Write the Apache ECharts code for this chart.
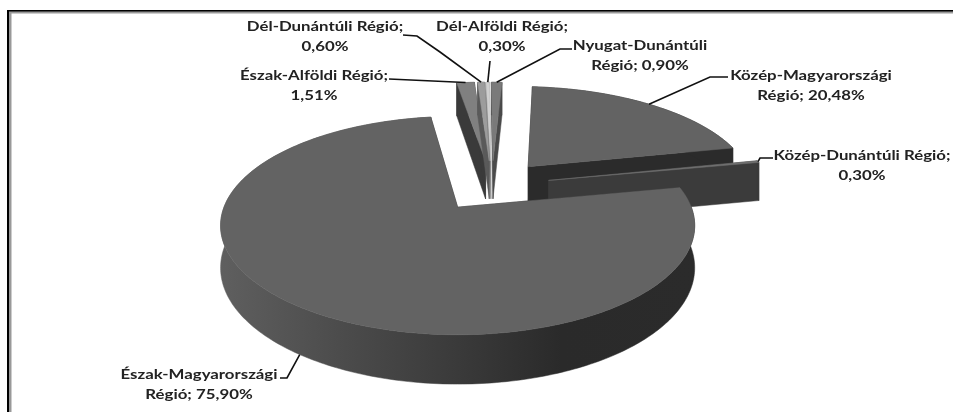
<!DOCTYPE html>
<html>
<head>
<meta charset="utf-8">
<style>
  * { margin: 0; padding: 0; }
  html, body { background: #fff; overflow: hidden; }
  #main { width: 953px; height: 412px; }
</style>
<script src="https://cdn.jsdelivr.net/npm/echarts@6/dist/echarts.min.js"></script>
</head>
<body>
<div id="main"></div>
<script>
  // adatok
  var regions = ['Közép-Magyarországi Régió', 'Közép-Dunántúli Régió', 'Észak-Magyarországi Régió',
    'Észak-Alföldi Régió', 'Dél-Dunántúli Régió', 'Dél-Alföldi Régió', 'Nyugat-Dunántúli Régió'];
  var shares = [20.48, 0.30, 75.90, 1.51, 0.60, 0.30, 0.90];

  // megjelenes
  var topColors = ['#636363', '#6e6e6e', '#636363', '#808080', '#9c9c9c', '#cfcfcf', '#7a7a7a'];
  var wallColors = ['#2b2b2b', '#3b3b3b', '#2b2b2b', '#3a3a3a', '#5a5a5a', '#8e8e8e', '#4a4a4a'];
  var paintOrder = [4, 5, 6, 0, 3, 2, 1]; // hatulrol elore, regions szerinti sorrendben ertve z2-nek
  var breakBeforeRegio = [true, false, true, false, false, false, true];
  var labelCenters = [[811, 85], [862, 165], [199, 384], [314, 85], [325, 36], [502, 36], [640, 55]];
  var leaderPoints = [
    [[728, 77], [710, 77]],
    [[773, 158], [760, 158]],
    [[280, 378], [287, 378]],
    [[389, 79]],
    [[403, 35], [417, 36], [440, 52]],
    [[490, 61]],
    [[572, 49], [560, 49]]
  ];
  var leaderOnBase = [0, 0, 1, 0, 0, 0, 0]; // a vonal a fal aljara fut

  // perspektiva: egysegsugaru korlap a kepernyon
  var originX = 458, originY = 207;
  var radiusX = 233.6, radiusY = 106, depth = 41, persp = 0.169;
  var centerOffset = [0.15, -0.21], explode = 0.26;
  var startAngle = 4.2;

  var total = shares.reduce(function (a, b) { return a + b; }, 0);
  var rad = Math.PI / 180;

  function project(x, y, z) {
    var s = 1 / (1 - persp * y);
    return [originX + radiusX * x * s, originY + (radiusY * y + depth * z) * s];
  }

  function sliceAngles(index) {
    var before = 0;
    for (var i = 0; i < index; i++) before += shares[i];
    var from = startAngle + before / total * 360;
    return [from, from + shares[index] / total * 360];
  }

  function sliceTip(from, to) {
    var mid = (from + to) / 2 * rad;
    return [centerOffset[0] + explode * Math.sin(mid), centerOffset[1] - explode * Math.cos(mid)];
  }

  function rim(tip, angle, z) {
    return project(tip[0] + Math.sin(angle * rad), tip[1] - Math.cos(angle * rad), z);
  }

  function labelText(i) {
    var pct = shares[i].toFixed(2).replace('.', ',') + '%';
    if (breakBeforeRegio[i]) {
      return regions[i].replace(' Régió', '\nRégió; ') + pct;
    }
    return regions[i] + ';\n' + pct;
  }

  function polygon(points, fill, z2) {
    return { type: 'polygon', z2: z2, shape: { points: points }, style: { fill: fill, stroke: fill, lineWidth: 0.5 } };
  }

  function baseGradient() {
    return new echarts.graphic.LinearGradient(0, 0, 1, 0, [
      { offset: 0, color: '#5f5f5f' },
      { offset: 0.25, color: '#4c4c4c' },
      { offset: 0.5, color: '#3a3a3a' },
      { offset: 0.72, color: '#2a2a2a' },
      { offset: 1, color: '#2b2b2b' }
    ]);
  }

  function renderSlice(params, api) {
    var i = params.dataIndex;
    var range = sliceAngles(i), from = range[0], to = range[1];
    var tip = sliceTip(from, to);
    var layer = paintOrder[i] * 10;
    var children = [];

    var topArc = [], baseArc = [];
    for (var a = from; a < to; a += 1) {
      topArc.push(rim(tip, a, 0));
      baseArc.push(rim(tip, a, 1));
    }
    topArc.push(rim(tip, to, 0));
    baseArc.push(rim(tip, to, 1));

    // oldalfalak, kulso fal, teteje
    [from, to].forEach(function (edge) {
      children.push(polygon([project(tip[0], tip[1], 0), rim(tip, edge, 0), rim(tip, edge, 1), project(tip[0], tip[1], 1)],
        wallColors[i], layer));
    });
    var outer = topArc.concat(baseArc.slice().reverse());
    children.push(polygon(outer, shares[i] > 50 ? baseGradient() : wallColors[i], layer + 1));
    children.push(polygon([project(tip[0], tip[1], 0)].concat(topArc), topColors[i], layer + 2));

    // vezeto vonal es felirat
    var mid = (from + to) / 2;
    var leader = leaderPoints[i].concat([rim(tip, mid, leaderOnBase[i])]);
    children.push({
      type: 'polyline', z2: 200, shape: { points: leader },
      style: { fill: null, stroke: '#111', lineWidth: 1.6 }
    });
    children.push({
      type: 'text', z2: 201,
      x: labelCenters[i][0], y: labelCenters[i][1],
      scaleX: 1.2, // az eredeti kep vizszintesen nyujtott
      style: {
        text: labelText(i), fill: '#222', align: 'center', verticalAlign: 'middle',
        font: 'bold 14px Lato', lineHeight: 20
      }
    });
    return { type: 'group', children: children };
  }

  var chart = echarts.init(document.getElementById('main'), null, { renderer: 'canvas' });
  chart.setOption({
    animation: false,
    backgroundColor: '#fff',
    graphic: [
      { type: 'rect', z: -1, shape: { x: 7, y: 10, width: 960, height: 420 }, style: { fill: '#000' }, silent: true },
      { type: 'rect', z: -1, shape: { x: 9, y: 11.5, width: 960, height: 420 }, style: { fill: '#999' }, silent: true },
      { type: 'rect', z: -1, shape: { x: 11.5, y: 13.5, width: 960, height: 420 }, style: { fill: '#fff' }, silent: true }
    ],
    series: [{
      type: 'custom',
      coordinateSystem: 'none',
      renderItem: renderSlice,
      data: shares.map(function (v, i) { return { name: regions[i], value: [v] }; })
    }]
  });
</script>
</body>
</html>
